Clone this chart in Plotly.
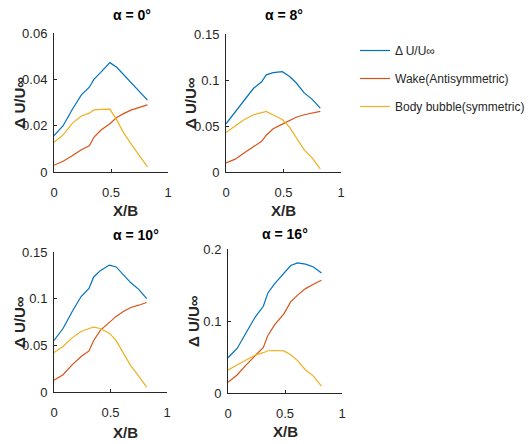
import plotly.graph_objects as go

x = [0, 0.08, 0.16, 0.24, 0.31, 0.35, 0.41, 0.49, 0.55, 0.61, 0.68, 0.75, 0.82]

titles = ["α = 0°", "α = 8°", "α = 10°", "α = 16°"]
series_names = ["Δ U/U∞", "Wake(Antisymmetric)", "Body bubble(symmetric)"]
colors = ["#0072BD", "#D95319", "#EDB120"]

du_0 = [0.0157, 0.020, 0.027, 0.0333, 0.0366, 0.040, 0.043, 0.0472, 0.0452, 0.042, 0.0383, 0.035, 0.031]
wake_0 = [0.0029, 0.0046, 0.007, 0.0096, 0.0113, 0.015, 0.018, 0.0208, 0.0235, 0.0252, 0.0268, 0.028, 0.029]
body_0 = [0.0128, 0.016, 0.021, 0.0242, 0.0254, 0.0268, 0.027, 0.0271, 0.0225, 0.017, 0.0118, 0.007, 0.0022]

du_8 = [0.0524, 0.065, 0.078, 0.091, 0.098, 0.1056, 0.108, 0.109, 0.104, 0.097, 0.086, 0.079, 0.0694]
wake_8 = [0.0098, 0.014, 0.021, 0.0278, 0.0333, 0.040, 0.047, 0.052, 0.056, 0.0595, 0.0622, 0.064, 0.0658]
body_8 = [0.043, 0.050, 0.057, 0.0622, 0.064, 0.0658, 0.062, 0.057, 0.049, 0.038, 0.024, 0.015, 0.0033]

du_10 = [0.0552, 0.068, 0.086, 0.1023, 0.111, 0.123, 0.130, 0.136, 0.134, 0.126, 0.117, 0.110, 0.100]
wake_10 = [0.0125, 0.0185, 0.029, 0.038, 0.044, 0.055, 0.066, 0.0745, 0.081, 0.086, 0.0905, 0.093, 0.0959]
body_10 = [0.0424, 0.0488, 0.058, 0.0649, 0.068, 0.0695, 0.068, 0.063, 0.055, 0.043, 0.028, 0.017, 0.0053]

du_16 = [0.049, 0.0619, 0.084, 0.1058, 0.1205, 0.139, 0.152, 0.167, 0.177, 0.1806, 0.179, 0.175, 0.1667]
wake_16 = [0.0148, 0.025, 0.039, 0.0527, 0.0633, 0.080, 0.095, 0.110, 0.1266, 0.136, 0.145, 0.151, 0.1566]
body_16 = [0.0319, 0.0388, 0.046, 0.0527, 0.056, 0.0587, 0.059, 0.0585, 0.053, 0.045, 0.032, 0.0235, 0.0097]

panels = [
    (du_0, wake_0, body_0),
    (du_8, wake_8, body_8),
    (du_10, wake_10, body_10),
    (du_16, wake_16, body_16),
]
y_ranges = [[0, 0.06], [0, 0.15], [0, 0.15], [0, 0.2]]
y_ticks = [[0, 0.02, 0.04, 0.06], [0, 0.05, 0.1, 0.15], [0, 0.05, 0.1, 0.15], [0, 0.1, 0.2]]
y_ticktext = [["0", "0.02", "0.04", "0.06"], ["0", "0.05", "0.1", "0.15"],
              ["0", "0.05", "0.1", "0.15"], ["0", "0.1", "0.2"]]
x_ticks = [0, 0.5, 1]
x_ticktext = ["0", "0.5", "1"]

W, H = 531, 444
# pixel boxes: (left, right, top, bottom)
boxes = [(54, 168, 33, 172), (226, 341, 34, 172), (54, 167, 252, 392), (228, 342, 249, 393)]
title_y = [15, 15, 235, 234]
xlab_y = [211, 211, 432, 431]

FAM = "Liberation Sans, Arial, sans-serif"
fig = go.Figure()
tick_font = dict(family=FAM, size=13, color="#262626")
title_font = dict(family=FAM, size=14, color="#000000")
lab_font = dict(family=FAM, size=15, color="#262626")

for i, (vals, box) in enumerate(zip(panels, boxes)):
    n = i + 1
    xa = "x" if n == 1 else f"x{n}"
    ya = "y" if n == 1 else f"y{n}"
    for k in range(3):
        fig.add_trace(go.Scatter(
            x=x, y=vals[k], mode="lines", name=series_names[k],
            line=dict(color=colors[k], width=1.2),
            xaxis=xa, yaxis=ya, showlegend=(i == 0), legendgroup=f"g{k}"))
    l, r, t, b = box
    axis_common = dict(showgrid=False, zeroline=False, showline=True, linecolor="#262626",
                       linewidth=1, ticks="inside", ticklen=3, tickcolor="#262626",
                       tickfont=tick_font, mirror=False, automargin=False)
    fig.layout[f"xaxis{'' if n == 1 else n}"] = dict(
        domain=[l / W, r / W], anchor=ya, range=[0, 1], tickvals=x_ticks,
        ticktext=x_ticktext, ticklabelstandoff=8, **axis_common)
    fig.layout[f"yaxis{'' if n == 1 else n}"] = dict(
        domain=[1 - b / H, 1 - t / H], anchor=xa, range=y_ranges[i], tickvals=y_ticks[i],
        ticktext=y_ticktext[i], ticklabelstandoff=3, **axis_common)
    cx = (l + r) / 2 / W
    fig.add_annotation(text=f"<b>{titles[i]}</b>", x=cx, y=1 - title_y[i] / H, xref="paper",
                       yref="paper", showarrow=False, font=title_font, yanchor="middle")
    fig.add_annotation(text="<b>X/B</b>", x=cx, y=1 - xlab_y[i] / H, xref="paper",
                       yref="paper", showarrow=False, font=lab_font, yanchor="middle")
    fig.add_annotation(text="<b>Δ U/U∞</b>", x=(l - 35) / W, y=1 - (t + b) / 2 / H,
                       xref="paper", yref="paper", showarrow=False, font=lab_font,
                       textangle=-90, xanchor="center", yanchor="middle")

fig.update_layout(
    width=W, height=H, margin=dict(l=0, r=0, t=0, b=0, autoexpand=False),
    paper_bgcolor="white", plot_bgcolor="white",
    legend=dict(x=355 / W, y=1 - 36 / H, xanchor="left", yanchor="top",
                font=dict(family=FAM, size=12, color="#262626"),
                bgcolor="rgba(0,0,0,0)", tracegroupgap=9, traceorder="grouped"),
)

fig.write_html("out.html")
